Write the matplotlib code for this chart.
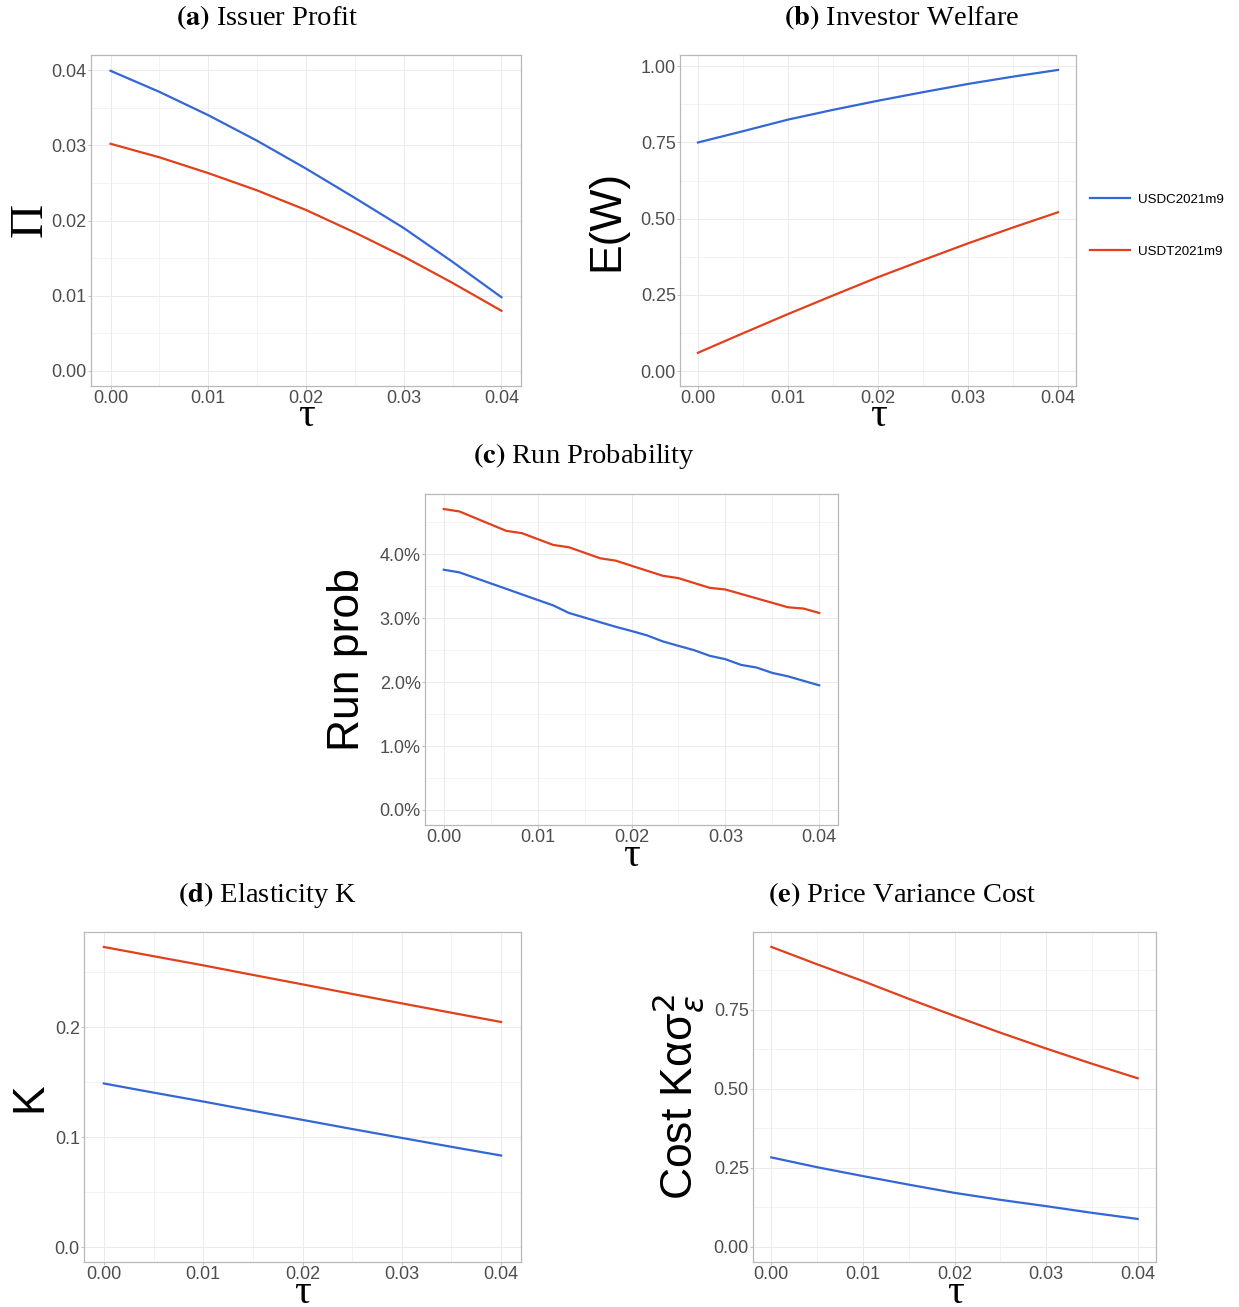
import matplotlib
matplotlib.use("Agg")
import matplotlib.pyplot as plt
from matplotlib.ticker import FixedLocator, FormatStrFormatter, PercentFormatter

# ----------------------------------------------------------------------
# Data
# ----------------------------------------------------------------------
SERIES = ["USDC2021m9", "USDT2021m9"]
COLORS = {"USDC2021m9": "#3467D6", "USDT2021m9": "#E2401B"}

tau = [0.0, 0.005, 0.010, 0.015, 0.020, 0.025, 0.030, 0.035, 0.040]

profit_usdc = [0.0399, 0.0371, 0.0340, 0.0306, 0.0269, 0.0230, 0.0190, 0.0145, 0.0098]
profit_usdt = [0.0302, 0.0284, 0.0263, 0.0240, 0.0214, 0.0184, 0.0152, 0.0117, 0.0080]

welfare_usdc = [0.750, 0.787, 0.825, 0.857, 0.887, 0.915, 0.942, 0.966, 0.988]
welfare_usdt = [0.060, 0.124, 0.187, 0.248, 0.308, 0.364, 0.419, 0.471, 0.521]

elast_usdc = [0.1487, 0.1404, 0.1323, 0.1239, 0.1156, 0.1073, 0.0992, 0.0911, 0.0832]
elast_usdt = [0.2728, 0.2644, 0.2561, 0.2474, 0.2388, 0.2301, 0.2215, 0.2130, 0.2046]

cost_usdc = [0.283, 0.252, 0.224, 0.197, 0.171, 0.149, 0.129, 0.108, 0.0886]
cost_usdt = [0.948, 0.893, 0.840, 0.784, 0.730, 0.677, 0.627, 0.579, 0.533]

# run probability is solved on a finer grid (step 0.04/24), in percent
tau_run = [0.0, 0.001667, 0.003333, 0.005, 0.006667, 0.008333, 0.01, 0.011667,
           0.013333, 0.015, 0.016667, 0.018333, 0.02, 0.021667, 0.023333, 0.025,
           0.026667, 0.028333, 0.03, 0.031667, 0.033333, 0.035, 0.036667,
           0.038333, 0.04]
run_usdc = [3.758, 3.717, 3.631, 3.545, 3.459, 3.372, 3.286, 3.200, 3.082,
            3.010, 2.937, 2.865, 2.800, 2.731, 2.637, 2.568, 2.500, 2.412,
            2.359, 2.270, 2.228, 2.144, 2.091, 2.020, 1.950]
run_usdt = [4.708, 4.670, 4.569, 4.467, 4.366, 4.330, 4.238, 4.146, 4.110,
            4.024, 3.937, 3.900, 3.821, 3.742, 3.664, 3.627, 3.551, 3.475,
            3.449, 3.380, 3.310, 3.241, 3.171, 3.151, 3.082]

# ----------------------------------------------------------------------
# Style
# ----------------------------------------------------------------------
W_PX, H_PX = 1239, 1307
DPI = 100
COL_TICK = "#4D4D4D"
COL_GRID = "#EBEBEB"
COL_BORDER = "#B8B8B8"
SANS = ["Liberation Sans", "DejaVu Sans"]
SERIF = ["Liberation Serif", "DejaVu Serif"]

plt.rcParams["font.family"] = SANS


def px_axes(fig, x0, y0, x1, y1):
    """Axes from pixel box (left, top, right, bottom)."""
    return fig.add_axes([x0 / W_PX, 1 - y1 / H_PX, (x1 - x0) / W_PX, (y1 - y0) / H_PX])


def style_axes(ax, yticks, ymin, ymax, yfmt):
    ax.set_xlim(-0.002, 0.042)
    ax.set_ylim(ymin, ymax)
    xt = [0.0, 0.01, 0.02, 0.03, 0.04]
    ax.xaxis.set_major_locator(FixedLocator(xt))
    ax.xaxis.set_minor_locator(FixedLocator([0.005, 0.015, 0.025, 0.035]))
    ax.xaxis.set_major_formatter(FormatStrFormatter("%.2f"))
    ax.yaxis.set_major_locator(FixedLocator(yticks))
    step = yticks[1] - yticks[0]
    ax.yaxis.set_minor_locator(FixedLocator(
        [t + step / 2 for t in yticks if t + step / 2 < ymax]))
    ax.yaxis.set_major_formatter(yfmt)
    ax.grid(True, which="major", color=COL_GRID, lw=0.7)
    ax.grid(True, which="minor", color=COL_GRID, lw=0.4)
    ax.set_axisbelow(True)
    for s in ax.spines.values():
        s.set_color(COL_BORDER)
        s.set_linewidth(0.9)
    ax.tick_params(which="major", length=2, width=0.6, color=COL_BORDER,
                   labelsize=13, labelcolor=COL_TICK, pad=1)
    ax.tick_params(which="minor", length=0)


def draw_pair(ax, x, y_usdc, y_usdt):
    ax.plot(x, y_usdc, color=COLORS["USDC2021m9"], lw=1.6, label="USDC2021m9")
    ax.plot(x, y_usdt, color=COLORS["USDT2021m9"], lw=1.6, label="USDT2021m9")


def title(fig, xc, yc, tag, text):
    fig.text(xc / W_PX, 1 - yc / H_PX, r"$\mathbf{(" + tag + r")}$ " + text,
             ha="center", va="center", fontsize=20.5, family=SERIF,
             math_fontfamily="stix")


def ylab(fig, xc, yc, text, family=SANS, size=32, **kw):
    fig.text(xc / W_PX, 1 - yc / H_PX, text, rotation=90, ha="center",
             va="center", fontsize=size, family=family, **kw)


def xlab(fig, xc, yc):
    fig.text(xc / W_PX, 1 - yc / H_PX, "τ", ha="center", va="center",
             fontsize=30, family=SERIF)


fig = plt.figure(figsize=(W_PX / DPI, H_PX / DPI), dpi=DPI)
fig.patch.set_facecolor("white")

# (a) Issuer profit
ax_a = px_axes(fig, 91, 55, 521, 386)
draw_pair(ax_a, tau, profit_usdc, profit_usdt)
style_axes(ax_a, [0.0, 0.01, 0.02, 0.03, 0.04], -0.002, 0.042, FormatStrFormatter("%.2f"))
title(fig, 267, 18, "a", "Issuer Profit")
ylab(fig, 30, 220, "Π", family=SERIF, size=34)
xlab(fig, 306, 416)

# (b) Investor welfare
ax_b = px_axes(fig, 680, 55, 1076, 386)
draw_pair(ax_b, tau, welfare_usdc, welfare_usdt)
style_axes(ax_b, [0.0, 0.25, 0.5, 0.75, 1.0], -0.049, 1.037, FormatStrFormatter("%.2f"))
title(fig, 902, 18, "b", "Investor Welfare")
ylab(fig, 607, 220, "E(W)")
xlab(fig, 878, 416)

# (c) Run probability
ax_c = px_axes(fig, 425, 494, 838, 825)
draw_pair(ax_c, tau_run, run_usdc, run_usdt)
style_axes(ax_c, [0.0, 1.0, 2.0, 3.0, 4.0], -0.235, 4.943, PercentFormatter(xmax=100, decimals=1))
title(fig, 584, 456, "c", "Run Probability")
ylab(fig, 347, 660, "Run prob")
xlab(fig, 631, 856)

# (d) Elasticity K
ax_d = px_axes(fig, 84, 932, 521, 1262)
draw_pair(ax_d, tau, elast_usdc, elast_usdt)
style_axes(ax_d, [0.0, 0.1, 0.2], -0.0136, 0.2864, FormatStrFormatter("%.1f"))
title(fig, 267, 895, "d", "Elasticity K")
ylab(fig, 30, 1097, "K")
xlab(fig, 302, 1293)

# (e) Price variance cost
ax_e = px_axes(fig, 753, 932, 1156, 1262)
draw_pair(ax_e, tau, cost_usdc, cost_usdt)
style_axes(ax_e, [0.0, 0.25, 0.5, 0.75], -0.0474, 0.995, FormatStrFormatter("%.2f"))
title(fig, 902, 895, "e", "Price Variance Cost")
ylab(fig, 678, 1097, r"Cost Kασ$^{2}_{\varepsilon}$", math_fontfamily="dejavusans")
xlab(fig, 955, 1293)

# shared legend to the right of panel (b)
handles, labels = ax_b.get_legend_handles_labels()
fig.legend(handles, labels, loc="upper left",
           bbox_to_anchor=(1085 / W_PX, 1 - 188 / H_PX),
           frameon=False, fontsize=9.6, handlelength=3.0,
           labelspacing=3.0, handletextpad=0.6, borderaxespad=0)

fig.savefig("out.png", dpi=DPI, facecolor="white")
